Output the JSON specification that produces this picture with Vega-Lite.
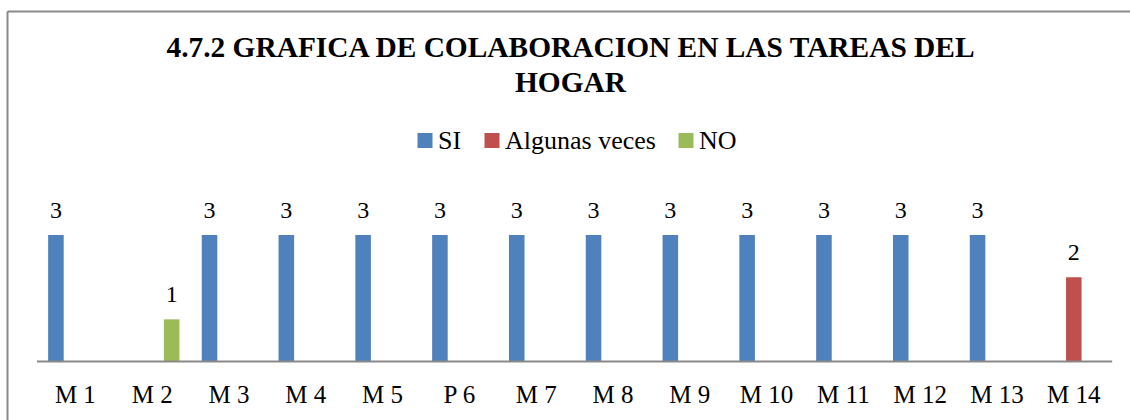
{
  "$schema": "https://vega.github.io/schema/vega-lite/v6.json",
  "width": 1123,
  "height": 409,
  "autosize": {"type": "none"},
  "padding": {"left": 7, "top": 11, "right": 0, "bottom": 0},
  "background": "white",
  "config": {
    "font": "Liberation Serif",
    "view": {"stroke": null}
  },
  "title": {
    "text": ["4.7.2 GRAFICA DE COLABORACION EN LAS TAREAS DEL", "HOGAR"],
    "font": "Liberation Serif",
    "fontSize": 29.4,
    "fontWeight": "bold",
    "color": "black",
    "lineHeight": 35,
    "anchor": "middle",
    "baseline": "bottom",
    "offset": -116,
    "dx": 2
  },
  "data": {
    "values": [
      {"m": "M 1", "s": "SI", "v": 3},
      {"m": "M 2", "s": "NO", "v": 1},
      {"m": "M 3", "s": "SI", "v": 3},
      {"m": "M 4", "s": "SI", "v": 3},
      {"m": "M 5", "s": "SI", "v": 3},
      {"m": "P 6", "s": "SI", "v": 3},
      {"m": "M 7", "s": "SI", "v": 3},
      {"m": "M 8", "s": "SI", "v": 3},
      {"m": "M 9", "s": "SI", "v": 3},
      {"m": "M 10", "s": "SI", "v": 3},
      {"m": "M 11", "s": "SI", "v": 3},
      {"m": "M 12", "s": "SI", "v": 3},
      {"m": "M 13", "s": "SI", "v": 3},
      {"m": "M 14", "s": "Algunas veces", "v": 2}
    ]
  },
  "resolve": {"axis": {"x": "independent"}},
  "layer": [
    {
      "mark": {"type": "bar"},
      "encoding": {
        "x": {
          "field": "m",
          "type": "nominal",
          "scale": {
            "domain": ["M 1", "M 2", "M 3", "M 4", "M 5", "P 6", "M 7", "M 8", "M 9", "M 10", "M 11", "M 12", "M 13", "M 14"],
            "paddingInner": 0.24,
            "paddingOuter": 0.431,
            "align": 0.592
          },
          "axis": {
            "orient": "bottom",
            "offset": -58.5,
            "domain": false,
            "ticks": false,
            "tickSize": 0,
            "labelPadding": 21,
            "labelFontSize": 25,
            "labelColor": "black",
            "labelFont": "Liberation Serif",
            "labelAngle": 0,
            "title": null,
            "grid": false
          }
        },
        "xOffset": {
          "field": "s",
          "type": "nominal",
          "scale": {"domain": ["SI", "Algunas veces", "NO"], "paddingInner": 0.2, "paddingOuter": 0.1}
        },
        "y": {
          "field": "v",
          "type": "quantitative",
          "scale": {"domain": [-1.387, 8.312], "nice": false, "zero": false},
          "axis": {"orient": "left", "domain": true, "domainColor": "#898989", "domainWidth": 2, "ticks": false, "labels": false, "grid": false, "title": null}
        },
        "color": {
          "field": "s",
          "type": "nominal",
          "scale": {"domain": ["SI", "Algunas veces", "NO"], "range": ["#4F81BD", "#C0504D", "#9BBB59"]},
          "legend": {
            "orient": "none",
            "legendX": 405,
            "legendY": 116.5,
            "direction": "horizontal",
            "title": null,
            "symbolType": "square",
            "symbolSize": 225,
            "symbolStrokeWidth": 0,
            "labelFont": "Liberation Serif",
            "labelFontSize": 26,
            "labelColor": "black",
            "labelOffset": 0,
            "columnPadding": 17,
            "padding": 0
          }
        }
      }
    },
    {
      "mark": {"type": "text", "dy": -17, "baseline": "alphabetic", "align": "center", "fontSize": 24, "color": "black", "font": "Liberation Serif"},
      "encoding": {
        "x": {"field": "m", "type": "nominal", "axis": null},
        "xOffset": {"field": "s", "type": "nominal"},
        "y": {
          "field": "v",
          "type": "quantitative",
          "axis": {"orient": "left", "domain": true, "domainColor": "#898989", "domainWidth": 2, "ticks": false, "labels": false, "grid": false, "title": null}
        },
        "text": {"field": "v", "type": "quantitative"}
      }
    },
    {
      "data": {"values": [{}]},
      "mark": {"type": "rule", "color": "#898989", "strokeWidth": 2},
      "encoding": {
        "x": {
          "datum": "M 1",
          "type": "nominal",
          "bandPosition": -0.1576,
          "axis": {"orient": "top", "domain": true, "domainColor": "#898989", "domainWidth": 2, "ticks": false, "labels": false, "grid": false, "title": null}
        },
        "x2": {"datum": "M 14", "bandPosition": 1.1576},
        "y": {
          "datum": 0,
          "type": "quantitative",
          "axis": {"orient": "left", "domain": true, "domainColor": "#898989", "domainWidth": 2, "ticks": false, "labels": false, "grid": false, "title": null}
        }
      }
    }
  ]
}
